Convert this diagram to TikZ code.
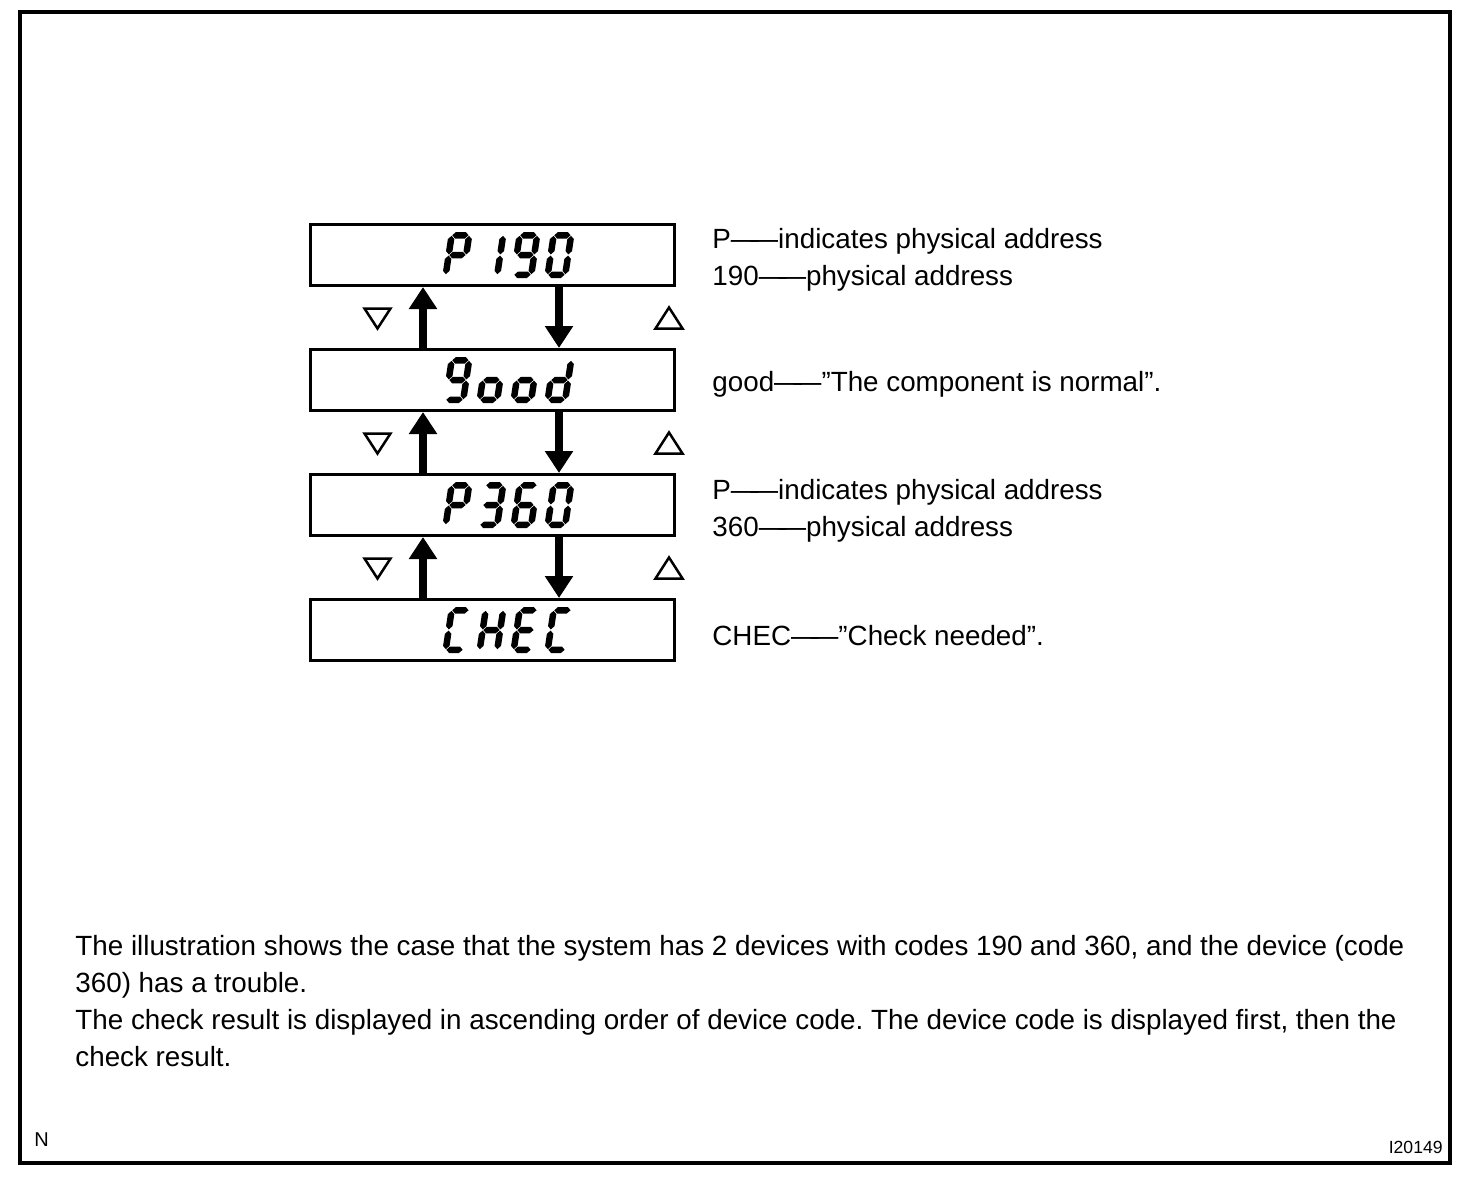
\documentclass[tikz,border=0pt]{standalone}
\usepackage{fontspec}
\setmainfont{Liberation Sans}
\usetikzlibrary{arrows.meta}
% seven-segment pieces (local units: px, y up), cell 24 x 46
\newcommand\sgma{\fill (3.85,42.75)--(7.1,46)--(16.9,46)--(20.15,42.75)--(16.9,39.5)--(7.1,39.5)--cycle;}
\newcommand\sgmd{\fill (3.85,3.25)--(7.1,6.5)--(16.9,6.5)--(20.15,3.25)--(16.9,0)--(7.1,0)--cycle;}
\newcommand\sgmg{\fill (3.85,23)--(7.1,26.25)--(16.9,26.25)--(20.15,23)--(16.9,19.75)--(7.1,19.75)--cycle;}
\newcommand\sgmb{\fill (20.75,23.6)--(24,26.85)--(24,38.9)--(20.75,42.15)--(17.5,38.9)--(17.5,26.85)--cycle;}
\newcommand\sgmc{\fill (20.75,3.85)--(24,7.1)--(24,19.15)--(20.75,22.4)--(17.5,19.15)--(17.5,7.1)--cycle;}
\newcommand\sgme{\fill (3.25,3.85)--(6.5,7.1)--(6.5,19.15)--(3.25,22.4)--(0,19.15)--(0,7.1)--cycle;}
\newcommand\sgmf{\fill (3.25,23.6)--(6.5,26.85)--(6.5,38.9)--(3.25,42.15)--(0,38.9)--(0,26.85)--cycle;}
\newcommand\sevseg[3]{\begin{scope}[shift={(#1,#2)},y=0.5pt,xslant=0.15]
  \foreach \s in {#3}{\csname sgm\s\endcsname}\end{scope}}
\newcommand\ddash{—\kern-0.3em—}
\frenchspacing
\begin{document}
\begin{tikzpicture}[x=0.5pt,y=-0.5pt,
  display/.style={draw,line width=1.5pt,rectangle,minimum width=182pt,minimum height=30.5pt,inner sep=0pt},
  lbl/.style={inner sep=0pt,anchor=base west,font=\fontsize{13.9pt}{16pt}\selectfont},
  flow/.style={line width=4pt,-{Triangle[width=13.5pt,length=11pt]}},
  marker/.style={line width=1.25pt,line join=miter}]
\useasboundingbox (0,0) rectangle (1472,1178);
\draw[line width=2pt] (20,12) rectangle (1449.5,1163);

% display boxes
\node[display] (d1) at (492.5,255) {};
\node[display] (d2) at (492.5,380) {};
\node[display] (d3) at (492.5,505) {};
\node[display] (d4) at (492.5,630) {};

% segment texts
\sevseg{442}{278}{a,b,e,f,g}\sevseg{476}{278}{b,c}\sevseg{510}{278}{a,b,c,d,f,g}\sevseg{544}{278}{a,b,c,d,e,f}
\sevseg{442}{403}{a,b,c,d,f,g}\sevseg{476}{403}{c,d,e,g}\sevseg{510}{403}{c,d,e,g}\sevseg{544}{403}{b,c,d,e,g}
\sevseg{442}{528}{a,b,e,f,g}\sevseg{476}{528}{a,b,c,d,g}\sevseg{510}{528}{a,c,d,e,f,g}\sevseg{544}{528}{a,b,c,d,e,f}
\sevseg{442}{653}{a,d,e,f}\sevseg{476}{653}{b,c,e,f,g}\sevseg{510}{653}{a,d,e,f,g}\sevseg{544}{653}{a,d,e,f}

% arrows
\coordinate (upx) at (423,0);
\coordinate (dnx) at (559,0);
\draw[flow] (d2.north -| upx) -- (d1.south -| upx);
\draw[flow] (d1.south -| dnx) -- (d2.north -| dnx);
\draw[flow] (d3.north -| upx) -- (d2.south -| upx);
\draw[flow] (d2.south -| dnx) -- (d3.north -| dnx);
\draw[flow] (d4.north -| upx) -- (d3.south -| upx);
\draw[flow] (d3.south -| dnx) -- (d4.north -| dnx);

% triangle markers
\foreach \dy in {0,125,250}{
  \draw[marker] (364.5,308.5+\dy) -- (390.5,308.5+\dy) -- (377.5,328.5+\dy) -- cycle;
  \draw[marker] (655.5,328.5+\dy) -- (682.5,328.5+\dy) -- (669,307.5+\dy) -- cycle;
}

% labels
\node[lbl] (l1) at (712,248) {P\ddash indicates physical address};
\node[lbl] (l2) at (712,285) {190\ddash physical address};
\node[lbl] (l3) at (712,391) {good\ddash ”The component is normal”.};
\node[lbl] (l4) at (712,499) {P\ddash indicates physical address};
\node[lbl] (l5) at (712,536) {360\ddash physical address};
\node[lbl] (l6) at (712,645) {CHEC\ddash ”Check needed”.};

% paragraph
\node[lbl] (p1) at (75,955) {The illustration shows the case that the system has 2 devices with codes 190 and 360, and the device (code};
\node[lbl] (p2) at (75,992) {360) has a trouble.};
\node[lbl] (p3) at (75,1029) {The check result is displayed in ascending order of device code. The device code is displayed first, then the};
\node[lbl] (p4) at (75,1066) {check result.};

\node[inner sep=0pt,anchor=base west,font=\fontsize{10pt}{12pt}\selectfont] (nn) at (34,1146) {N};
\node[inner sep=0pt,anchor=base east,font=\fontsize{8.8pt}{10pt}\selectfont] (id) at (1443,1153) {I20149};
\end{tikzpicture}
\end{document}
